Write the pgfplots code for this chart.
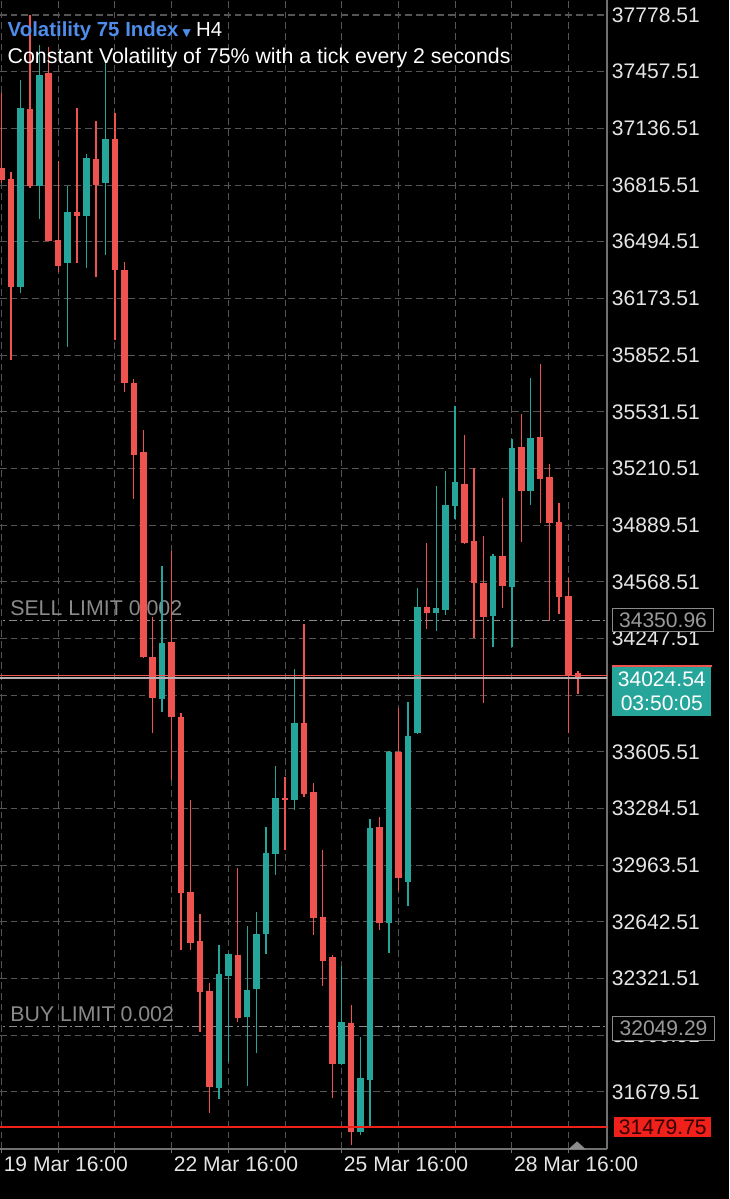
\documentclass[border=0pt]{standalone}
\usepackage{pgfplots}
\pgfplotsset{compat=1.18}
\usepackage{pgfplotstable}
\usepackage{fontspec}
\setmainfont{Liberation Sans}
\newfontfamily\dejavu{DejaVu Sans}

\definecolor{bull}{HTML}{26A69A}
\definecolor{bear}{HTML}{EF5350}
\definecolor{gridc}{HTML}{555555}
\definecolor{axc}{HTML}{707070}
\definecolor{lim}{HTML}{8A8A8A}
\definecolor{limtxt}{HTML}{9A9A9A}
\definecolor{titleblue}{HTML}{4F8DEB}
\definecolor{redline}{HTML}{F0201A}
\definecolor{bidline}{HTML}{B8B0B0}

% candle style: wick or body drawn as an error bar, no marks
\pgfplotsset{
  candle/.style 2 args={only marks, mark=*, mark size=0pt,
    mark options={draw=none, fill=none},
    error bars/.cd, y dir=plus, y explicit, error mark=none,
    error bar style={line width=#2, #1}},
}

% H4 candles, i = bar index from 19 Mar 16:00
\pgfplotstableread{
i O H L C
2 36238 37410 36204 37252
4 36812 37609 36623 37439
7 36374 36812 35900 36663
9 36640 36991 36348 36970
11 36827 37524 36419 37076
17 33905 34658 33831 34224
23 31700 32512 31638 32346
24 32338 32467 31851 32459
26 32102 32620 31715 32257
27 32263 32700 31899 32573
28 32573 33182 32461 33033
29 33027 33527 32908 33343
31 33333 34073 33277 33768
36 31836 32395 31832 32074
38 31455 31993 31436 31757
39 31748 33224 31487 33173
41 32638 33611 32465 33607
43 32870 33886 32734 33697
44 33711 34535 33705 34428
46 34394 35111 34292 34419
47 34409 35196 34381 35004
48 35000 35564 34923 35136
52 34375 34726 34198 34717
54 34541 35376 34201 35328
56 35083 35721 35004 35381
}\bulltable

\pgfplotstableread{
i O H L C
0 36914 37337 36827 36844
1 36850 36890 35825 36238
3 37246 37778 36799 36810
5 37452 37597 36499 36500
6 36504 36953 36323 36359
8 36663 37252 36376 36640
10 36963 37178 36295 36816
12 37076 37224 35938 36334
13 36334 36381 35645 35696
14 35696 35717 35038 35287
15 35304 35428 34137 34140
16 34140 34369 33712 33911
18 34230 34745 33446 33805
19 33805 33828 32484 32808
20 32810 33333 32484 32525
21 32535 32688 32021 32244
22 32251 32298 31562 31710
25 32455 32946 32078 32097
30 33346 33465 33050 33333
32 33771 34330 33352 33367
33 33380 33428 32569 32663
34 32672 33050 32280 32423
35 32446 32455 31644 31838
37 32069 32172 31379 31455
40 33178 33235 32597 32638
42 33603 33852 32819 32890
45 34428 34787 34300 34394
49 35121 35400 34780 34787
50 34800 35212 34249 34560
51 34560 34830 33884 34371
53 34715 35042 34419 34547
55 35334 35519 34796 35083
57 35387 35802 34900 35153
58 35164 35236 34348 34903
59 34909 35017 34386 34481
60 34488 34589 33711 34035
61 34054 34065 33933 34024.54
}\beartable

\begin{document}
\begin{tikzpicture}
\fill[black] (0,0) rectangle (546.75pt,899.25pt);
\path[use as bounding box] (0,0) rectangle (546.75pt,899.25pt);
\begin{axis}[
  at={(0pt,37.5pt)}, anchor=south west,
  scale only axis, width=455.25pt, height=861.75pt,
  xmin=-0.159, xmax=64.07,
  ymin=31356.6, ymax=37863.5,
  clip mode=individual,
  axis x line*=bottom, axis y line*=right,
  axis line style={axc, line width=0.8pt},
  tick align=outside,
  major tick length=3pt,
  xtick={0,6,...,60},
  xticklabels={19 Mar 16:00,,,22 Mar 16:00,,,25 Mar 16:00,,,28 Mar 16:00,},
  ytick={31679.51,32000.51,32321.51,32642.51,32963.51,33284.51,33605.51,33926.51,34247.51,34568.51,34889.51,35210.51,35531.51,35852.51,36173.51,36494.51,36815.51,37136.51,37457.51,37778.51},
  yticklabels={31679.51,32000.51,32321.51,32642.51,32963.51,33284.51,33605.51,33926.51,34247.51,34568.51,34889.51,35210.51,35531.51,35852.51,36173.51,36494.51,36815.51,37136.51,37457.51,37778.51},
  xtick style={axc, line width=0.8pt},
  ytick style={draw=none},
  ticklabel style={font=\fontsize{15.8pt}{18pt}\selectfont, text=white!90!black},
  xticklabel style={anchor=north west, inner sep=0pt, xshift=1.5pt, yshift=-3pt},
  yticklabel style={anchor=west, inner sep=0pt, xshift=0.5pt},
  grid=major,
  major grid style={gridc, line width=0.75pt, dash pattern=on 5pt off 3pt},
]
% pending orders
\addplot[lim, line width=0.9pt, dash pattern=on 6pt off 2.5pt on 1.5pt off 2.5pt] coordinates {(-1,34350.96) (65,34350.96)};
\addplot[lim, line width=0.9pt, dash pattern=on 6pt off 2.5pt on 1.5pt off 2.5pt] coordinates {(-1,32049.29) (65,32049.29)};
\node[anchor=base west, inner sep=0pt, text=lim, font=\fontsize{16pt}{18pt}\selectfont] at (axis cs:0.9,34376) {SELL LIMIT 0.002};
\node[anchor=base west, inner sep=0pt, text=lim, font=\fontsize{16pt}{18pt}\selectfont] at (axis cs:0.9,32078) {BUY LIMIT 0.002};

% wicks
\addplot[candle={bull}{1pt}] table[x=i, y=L, y error plus expr=\thisrow{H}-\thisrow{L}] {\bulltable};
\addplot[candle={bear}{1pt}] table[x=i, y=L, y error plus expr=\thisrow{H}-\thisrow{L}] {\beartable};
% bodies
\addplot[candle={bull}{4.9pt}] table[x=i, y=O, y error plus expr=\thisrow{C}-\thisrow{O}] {\bulltable};
\addplot[candle={bear}{4.9pt}] table[x=i, y=C, y error plus expr=\thisrow{O}-\thisrow{C}] {\beartable};

% price lines
\addplot[bear, line width=0.6pt] coordinates {(-1,34038) (65,34038)};
\addplot[bidline, line width=1.3pt] coordinates {(-1,34024.54) (65,34024.54)};
\addplot[redline, line width=1.6pt] coordinates {(-1,31479.75) (65,31479.75)};
% chart shift marker
\addplot[only marks, mark=triangle*, color=gray!90!white, mark size=6.9pt,
  mark options={yscale=0.53}] coordinates {(60.9,31370)};

\coordinate (sell) at (axis cs:64.07,34350.96);
\coordinate (buy) at (axis cs:64.07,32049.29);
\coordinate (bid) at (axis cs:64.07,34024.54);
\coordinate (low) at (axis cs:64.07,31479.75);
\end{axis}

% price boxes on the scale
\node[anchor=west, draw=lim, line width=0.8pt, fill=black, text=limtxt, inner sep=0pt,
  minimum width=75.75pt, minimum height=17.25pt, font=\fontsize{15.8pt}{18pt}\selectfont]
  at ([xshift=3.75pt]sell) {34350.96};
\node[anchor=west, draw=lim, line width=0.8pt, fill=black, text=limtxt, inner sep=0pt,
  minimum width=76.5pt, minimum height=18pt, font=\fontsize{15.8pt}{18pt}\selectfont]
  at ([xshift=3.75pt, yshift=-1.5pt]buy) {32049.29};
\node[anchor=north west, fill=bull, text=white, inner sep=0pt, align=center,
  minimum width=74.25pt, minimum height=37.5pt, font=\fontsize{15.8pt}{17.5pt}\selectfont]
  (bidbox) at ([xshift=3.75pt, yshift=9pt]bid) {34024.54\\03:50:05};
\draw[bear, line width=1.2pt] (bidbox.north west) -- (bidbox.north east);
\node[anchor=west, fill=redline, text=black!80!red, inner sep=0pt,
  minimum width=72.75pt, minimum height=15pt, font=\fontsize{15.8pt}{18pt}\selectfont]
  at ([xshift=5.25pt]low) {31479.75};

% header
\node[anchor=base west, inner sep=0pt, font=\fontsize{15.3pt}{18pt}\selectfont]
  at (5.6pt,871.9pt) {\textcolor{titleblue}{\bfseries Volatility 75 Index}\hspace{3pt}\textcolor{titleblue}{\dejavu\fontsize{8pt}{10pt}\selectfont ▼}\hspace{4pt}\textcolor{white}{H4}};
\node[anchor=base west, inner sep=0pt, text=white, font=\fontsize{16pt}{18pt}\selectfont]
  at (5.6pt,851.6pt) {Constant Volatility of 75\% with a tick every 2 seconds};
\end{tikzpicture}
\end{document}
